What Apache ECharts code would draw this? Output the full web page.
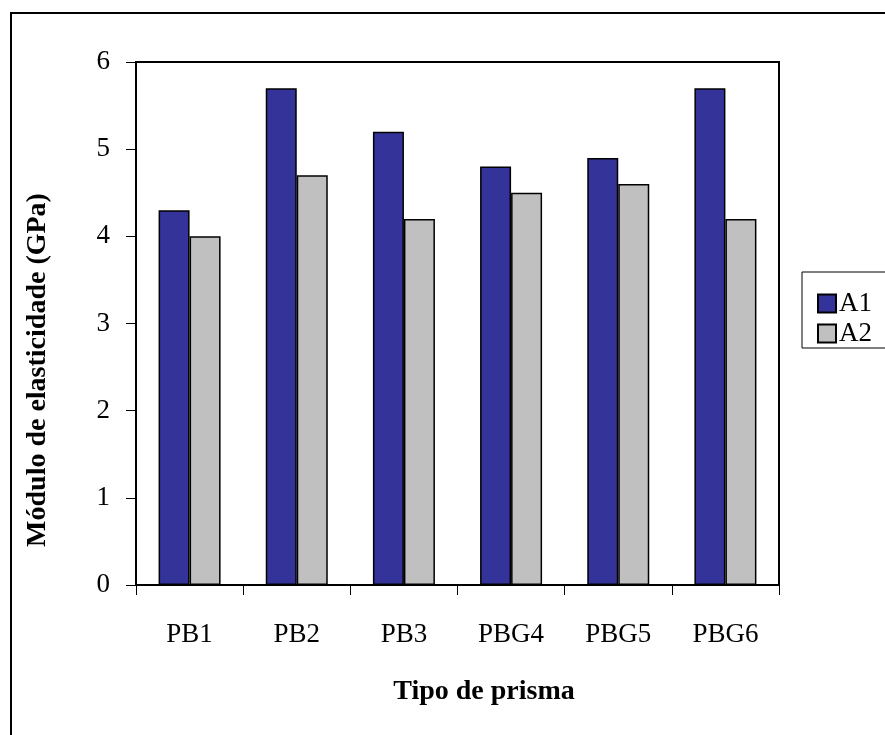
<!DOCTYPE html>
<html>
<head>
<meta charset="utf-8">
<script src="https://cdn.jsdelivr.net/npm/echarts@6/dist/echarts.min.js"></script>
<style>
html,body{margin:0;padding:0;background:#fff;}
#chart{width:885px;height:735px;}
</style>
</head>
<body>
<div id="chart"></div>
<script>
const categories = ['PB1', 'PB2', 'PB3', 'PBG4', 'PBG5', 'PBG6'];
const seriesA1 = [4.3, 5.7, 5.2, 4.8, 4.9, 5.7];
const seriesA2 = [4.0, 4.7, 4.2, 4.5, 4.6, 4.2];
const seriesNames = ['A1', 'A2'];
const yTicks = [0, 1, 2, 3, 4, 5, 6];
const xTitle = 'Tipo de prisma';
const yTitle = 'Módulo de elasticidade (GPa)';

const font = '"Liberation Serif", "Times New Roman", serif';
const chart = echarts.init(document.getElementById('chart'));
chart.setOption({
  backgroundColor: '#fff',
  animation: false,
  textStyle: { fontFamily: font },
  graphic: [
    { type: 'rect', shape: { x: 11, y: 13, width: 900, height: 900 },
      style: { fill: 'none', stroke: '#000', lineWidth: 2 }, z: 100 },
    { type: 'rect', shape: { x: 802, y: 272, width: 120, height: 76 },
      style: { fill: '#fff', stroke: '#000', lineWidth: 1 }, z: 1 },
    { type: 'text', x: 484, y: 692,
      style: { text: xTitle, font: 'bold 28px ' + font, fill: '#000',
        textAlign: 'center', textVerticalAlign: 'middle' } },
    { type: 'text', x: 38, y: 370, rotation: Math.PI / 2,
      style: { text: yTitle, font: 'bold 28px ' + font, fill: '#000',
        textAlign: 'center', textVerticalAlign: 'middle' } }
  ],
  grid: { left: 136, right: 885 - 779, top: 62, bottom: 735 - 585,
    show: true, borderColor: '#000', borderWidth: 2, backgroundColor: 'transparent' },
  legend: {
    orient: 'vertical', left: 812, top: 285, itemGap: 3,
    itemWidth: 18, itemHeight: 18, icon: 'rect',
    textStyle: { fontFamily: font, fontSize: 27, color: '#000', padding: [0, 0, 0, -2] },
    data: seriesNames, z: 5
  },
  xAxis: {
    type: 'category', data: categories,
    axisLine: { lineStyle: { color: '#000', width: 2 } },
    axisTick: { show: true, length: 10, lineStyle: { color: '#000', width: 1 } },
    axisLabel: { color: '#000', fontSize: 27, fontFamily: font, margin: 36 }
  },
  yAxis: {
    type: 'value', min: yTicks[0], max: yTicks[yTicks.length - 1], interval: 1,
    splitLine: { show: false },
    axisLine: { show: true, lineStyle: { color: '#000', width: 2 } },
    axisTick: { show: true, length: 10, lineStyle: { color: '#000', width: 1 } },
    axisLabel: { color: '#000', fontSize: 27, fontFamily: font, margin: 26 }
  },
  series: [
    { name: seriesNames[0], type: 'bar', data: seriesA1, barWidth: 31, barGap: '0%',
      itemStyle: { color: '#333399', borderColor: '#000', borderWidth: 1.5 } },
    { name: seriesNames[1], type: 'bar', data: seriesA2, barWidth: 31, barGap: '0%',
      itemStyle: { color: '#C0C0C0', borderColor: '#000', borderWidth: 1.5 } }
  ]
});
</script>
</body>
</html>
